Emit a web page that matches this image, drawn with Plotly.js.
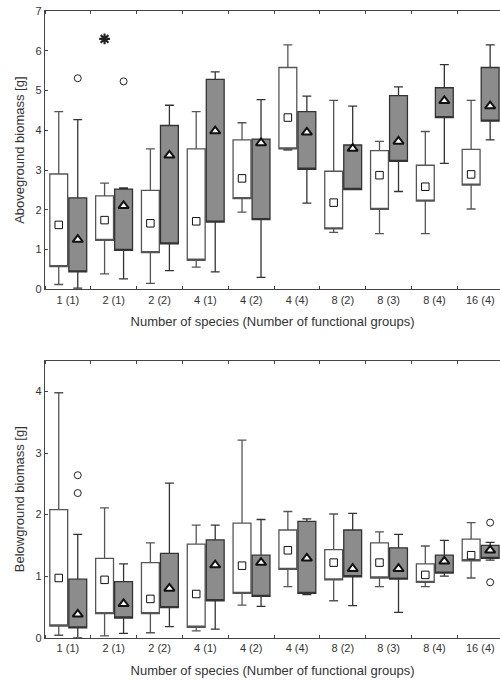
<!DOCTYPE html>
<html>
<head>
<meta charset="utf-8">
<script src="https://cdn.plot.ly/plotly-3.0.1.min.js"></script>
<style>
html,body{margin:0;padding:0;background:#fff;}
#chart{width:500px;height:681px;}
</style>
</head>
<body>
<div id="chart"></div>
<script>
// ---------- DATA ----------
var categories = ['1 (1)','2 (1)','2 (2)','4 (1)','4 (2)','4 (4)','8 (2)','8 (3)','8 (4)','16 (4)'];

// Aboveground biomass [g] - white boxes
var agWhiteUpper  = [4.47, 2.67, 3.53, 4.47, 4.19, 6.15, 4.75, 3.72, 3.97, 4.75];
var agWhiteQ3     = [2.90, 2.35, 2.49, 3.53, 3.76, 5.58, 2.97, 3.49, 3.12, 3.52];
var agWhiteQ1     = [0.57, 1.23, 0.92, 0.73, 2.28, 3.53, 1.52, 2.01, 2.22, 2.62];
var agWhiteLower  = [0.12, 0.39, 0.15, 0.56, 1.94, 3.50, 1.43, 1.40, 1.40, 2.02];
var agWhiteCenter = [1.62, 1.74, 1.66, 1.71, 2.79, 4.32, 2.18, 2.87, 2.58, 2.89];
// Aboveground biomass [g] - grey boxes
var agGreyUpper   = [4.27, 2.55, 4.63, 5.47, 4.77, 4.86, 4.61, 5.09, 5.65, 6.15];
var agGreyQ3      = [2.30, 2.52, 4.12, 5.28, 3.78, 4.47, 3.63, 4.87, 5.07, 5.58];
var agGreyQ1      = [0.44, 0.98, 1.14, 1.69, 1.75, 3.02, 2.51, 3.22, 4.32, 4.23];
var agGreyLower   = [0.03, 0.26, 0.47, 0.44, 0.30, 2.17, 2.51, 2.46, 3.17, 3.76];
var agGreyCenter  = [1.25, 2.10, 3.37, 3.98, 3.68, 3.95, 3.54, 3.72, 4.74, 4.61];
// Aboveground outliers
var agWhiteExtremeCat = ['2 (1)'];
var agWhiteExtremeVal = [6.30];
var agGreyOutlierCat  = ['1 (1)', '2 (1)'];
var agGreyOutlierVal  = [5.31, 5.23];

// Belowground biomass [g] - white boxes
var bgWhiteUpper  = [3.98, 2.11, 1.54, 1.83, 3.21, 2.05, 2.01, 1.72, 1.49, 1.87];
var bgWhiteQ3     = [2.08, 1.29, 1.22, 1.52, 1.86, 1.75, 1.43, 1.54, 1.20, 1.60];
var bgWhiteQ1     = [0.19, 0.39, 0.39, 0.17, 0.72, 1.11, 0.94, 0.97, 0.90, 1.25];
var bgWhiteLower  = [0.04, 0.03, 0.08, 0.11, 0.53, 0.83, 0.60, 0.83, 0.83, 0.97];
var bgWhiteCenter = [0.97, 0.94, 0.63, 0.71, 1.17, 1.42, 1.22, 1.22, 1.02, 1.34];
// Belowground biomass [g] - grey boxes
var bgGreyUpper   = [1.68, 1.20, 2.51, 1.83, 1.92, 1.93, 2.02, 1.68, 1.58, 1.55];
var bgGreyQ3      = [0.95, 0.91, 1.37, 1.59, 1.34, 1.89, 1.75, 1.46, 1.34, 1.50];
var bgGreyQ1      = [0.16, 0.32, 0.49, 0.60, 0.67, 0.72, 0.99, 0.95, 1.05, 1.29];
var bgGreyLower   = [0.00, 0.07, 0.18, 0.14, 0.51, 0.70, 0.52, 0.41, 1.00, 1.26];
var bgGreyCenter  = [0.38, 0.55, 0.80, 1.18, 1.22, 1.29, 1.12, 1.12, 1.24, 1.42];
// Belowground outliers
var bgGreyOutlierCat = ['1 (1)', '1 (1)', '16 (4)', '16 (4)'];
var bgGreyOutlierVal = [2.64, 2.35, 1.87, 0.90];

var xTitle = 'Number of species (Number of functional groups)';
var agTitle = 'Aboveground biomass [g]';
var bgTitle = 'Belowground biomass [g]';

// ---------- BUILD ----------
var OFF_W = -0.2, OFF_G = 0.215, BOXW = 0.39;
var idx = categories.map(function(_, i){ return i; });
function pos(off){ return idx.map(function(i){ return i + off; }); }
function posOf(cats, off){ return cats.map(function(c){ return categories.indexOf(c) + off; }); }

var whiteFill = '#ffffff', greyFill = '#8c8c8c';
var whiteLine = '#555555', greyLine = '#333333';

function boxTrace(xa, ya, off, q1, q3, lo, up, fill, line){
  return {
    type: 'box', xaxis: xa, yaxis: ya,
    x: pos(off), q1: q1, median: q1, q3: q3,
    lowerfence: lo, upperfence: up,
    width: BOXW, whiskerwidth: 0.5,
    fillcolor: fill, line: {color: line, width: 1.3},
    boxpoints: false, hoverinfo: 'skip', showlegend: false
  };
}
function centerTrace(xa, ya, off, vals, symbol, size, lw){
  return {
    type: 'scatter', mode: 'markers', xaxis: xa, yaxis: ya,
    x: pos(off), y: vals,
    marker: {symbol: symbol, size: size, color: '#ffffff', line: {color: '#111', width: lw}},
    hoverinfo: 'skip', showlegend: false
  };
}
function outTrace(xa, ya, cats, off, vals, symbol, size, lw){
  return {
    type: 'scatter', mode: 'markers', xaxis: xa, yaxis: ya,
    x: posOf(cats, off), y: vals,
    marker: {symbol: symbol, size: size, color: '#222', line: {color: '#222', width: lw}},
    hoverinfo: 'skip', showlegend: false
  };
}

var data = [
  boxTrace('x','y', OFF_W, agWhiteQ1, agWhiteQ3, agWhiteLower, agWhiteUpper, whiteFill, whiteLine),
  boxTrace('x','y', OFF_G, agGreyQ1, agGreyQ3, agGreyLower, agGreyUpper, greyFill, greyLine),
  centerTrace('x','y', OFF_W, agWhiteCenter, 'square', 7.5, 1),
  centerTrace('x','y', OFF_G, agGreyCenter, 'triangle-up', 9, 2),
  outTrace('x','y', agWhiteExtremeCat, OFF_W, agWhiteExtremeVal, 'asterisk-open', 9, 2.2),
  outTrace('x','y', agGreyOutlierCat, OFF_G, agGreyOutlierVal, 'circle-open', 7, 1),

  boxTrace('x2','y2', OFF_W, bgWhiteQ1, bgWhiteQ3, bgWhiteLower, bgWhiteUpper, whiteFill, whiteLine),
  boxTrace('x2','y2', OFF_G, bgGreyQ1, bgGreyQ3, bgGreyLower, bgGreyUpper, greyFill, greyLine),
  centerTrace('x2','y2', OFF_W, bgWhiteCenter, 'square', 7.5, 1),
  centerTrace('x2','y2', OFF_G, bgGreyCenter, 'triangle-up', 9, 2),
  outTrace('x2','y2', bgGreyOutlierCat, OFF_G, bgGreyOutlierVal, 'circle-open', 7, 1)
];

var boundaries = categories.map(function(_, i){ return i - 0.5; });
var tickFont = {family: 'Liberation Sans, Arial, sans-serif', size: 11, color: '#333'};
var titleFont = {family: 'Liberation Sans, Arial, sans-serif', size: 13, color: '#333'};

function xAxis(anchor){
  return {
    anchor: anchor, domain: [0, 1], range: [-0.5, 9.43],
    tickmode: 'array', tickvals: idx, ticktext: categories,
    ticks: '', showgrid: false, zeroline: false,
    showline: true, linecolor: '#444', linewidth: 1.2, mirror: 'ticks',
    minor: {tickmode: 'array', tickvals: boundaries, ticks: 'inside', ticklen: 3, tickcolor: '#444', tickwidth: 1, showgrid: false},
    tickfont: tickFont,
    title: {text: xTitle, font: titleFont, standoff: 12}
  };
}
function yAxis(anchor, domain, range, title){
  return {
    anchor: anchor, domain: domain, range: range,
    dtick: 1, tick0: 0, ticks: 'inside', ticklen: 3, tickcolor: '#444',
    showgrid: false, zeroline: false,
    showline: true, linecolor: '#444', linewidth: 1.2,
    tickfont: tickFont,
    title: {text: title, font: titleFont, standoff: 8}
  };
}

var layout = {
  width: 500, height: 681,
  margin: {l: 45, r: 0, t: 0, b: 0},
  paper_bgcolor: '#fff', plot_bgcolor: '#fff',
  boxmode: 'overlay',
  showlegend: false,
  xaxis: xAxis('y'),
  yaxis: yAxis('x', [0.5752, 0.9838], [0, 7], agTitle),
  xaxis2: xAxis('y2'),
  yaxis2: yAxis('x2', [0.0636, 0.4703], [0, 4.5], bgTitle)
};

Plotly.newPlot('chart', data, layout, {staticPlot: true, displayModeBar: false});
</script>
</body>
</html>
